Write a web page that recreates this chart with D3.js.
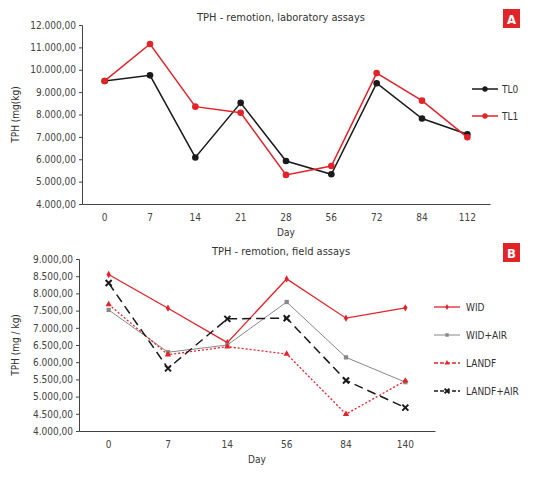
<!DOCTYPE html><html><head><meta charset="utf-8"><script src="https://cdn.jsdelivr.net/npm/d3@7"></script>
<style>body{margin:0;background:#fff}text{font-family:"Liberation Sans Narrow","DejaVu Sans Condensed",sans-serif;fill:#333}</style></head><body><svg id="c" width="537" height="480"></svg>
<script>
const daysA=["0","7","14","21","28","56","72","84","112"];
const tl0=[9500,9750,6080,8520,5920,5330,9400,7820,7120];
const tl1=[9500,11150,8350,8080,5300,5700,9850,8620,6980];
const ticksA=[4000,5000,6000,7000,8000,9000,10000,11000,12000];
const daysB=["0","7","14","56","84","140"];
const wid=[8550,7570,6570,8420,7280,7580];
const widAir=[7520,6290,6500,7750,6140,5420];
const landf=[7680,6220,6450,6240,4490,5460];
const landfAir=[8300,5820,7260,7280,5470,4680];
const ticksB=[4000,4500,5000,5500,6000,6500,7000,7500,8000,8500,9000];
const svg=d3.select("#c");
const fmt=v=>d3.format(",.2f")(v).replace(/,/g,"#").replace(".",",").replace(/#/g,".");
function panel(o){
 const x=d3.scaleBand().domain(o.days).range([o.x0,o.x1]);
 const y=d3.scaleLinear().domain([4000,o.ymax]).range([o.y1,o.y0]);
 const g=svg.append("g");
 const ya=g.append("g").attr("transform",`translate(${o.x0},0)`).call(d3.axisLeft(y).tickValues(o.ticks).tickFormat(fmt).tickSize(3));
 const xa=g.append("g").attr("transform",`translate(0,${o.y1})`).call(d3.axisBottom(x).tickSize(0).tickPadding(10));
 [ya,xa].forEach(a=>{a.selectAll("path,line").attr("stroke","#444");a.selectAll("text").attr("font-size",10).style("fill","#444")});
 g.append("text").attr("x",281).attr("y",o.y0-4).attr("text-anchor","middle").attr("font-size",11).text(o.title);
 g.append("text").attr("x",(o.x0+o.x1)/2).attr("y",o.y1+32).attr("text-anchor","middle").attr("font-size",10).text("Day");
 g.append("text").attr("transform",`translate(19,${(o.y0+o.y1)/2}) rotate(-90)`).attr("text-anchor","middle").attr("font-size",10).text(o.ylab);
 g.append("rect").attr("x",503).attr("y",o.y0-16).attr("width",17).attr("height",19).attr("fill","#e2232a");
 g.append("text").attr("x",511.5).attr("y",o.y0-1).attr("text-anchor","middle").attr("font-size",13).attr("font-weight","bold").style("fill","#fff").text(o.tag);
 o.series.forEach((s,i)=>{
  const line=d3.line().x((d,j)=>x(o.days[j])+x.bandwidth()/2).y(d=>y(d));
  g.append("path").datum(s.v).attr("d",line).attr("fill","none").attr("stroke",s.c).attr("stroke-width",s.w).attr("stroke-dasharray",s.dash||null);
  const px=(d,j)=>x(o.days[j])+x.bandwidth()/2;
  const ly=o.leg[1]+i*o.leg[2];
  g.append("line").attr("x1",o.leg[0]).attr("x2",o.leg[0]+26).attr("y1",ly).attr("y2",ly).attr("stroke",s.c).attr("stroke-width",s.w).attr("stroke-dasharray",s.dash?"4,2":null);
  g.append("text").attr("x",o.leg[0]+(o.tag=="A"?30:32)).attr("y",ly+4).attr("font-size",10).text(s.n);
  const mark=(sel,cx,cy,sz)=>{
   if(s.m=="circle")sel.append("circle").attr("cx",cx).attr("cy",cy).attr("r",sz).attr("fill",s.c);
   else if(s.m=="x"){const a=sz;sel.append("path").attr("d",`M${cx-a},${cy-a}L${cx+a},${cy+a}M${cx-a},${cy+a}L${cx+a},${cy-a}`).attr("stroke",s.c).attr("stroke-width",2);}
   else{const sym={diamond:d3.symbolDiamond,square:d3.symbolSquare,triangle:d3.symbolTriangle}[s.m];
    sel.append("path").attr("transform",`translate(${cx},${cy})`).attr("d",d3.symbol(sym,sz*sz*3.2)()).attr("fill",s.c);}
  };
  s.v.forEach((d,j)=>mark(g,px(d,j),y(d),s.sz));
  mark(g,o.leg[0]+13,ly,s.sz*0.8);
 });
}
panel({days:daysA,ticks:ticksA,ymax:12000,x0:82,x1:490,y0:25,y1:204,title:"TPH - remotion, laboratory assays",ylab:"TPH (mg(kg)",tag:"A",leg:[472,89,27],
 series:[{n:"TL0",v:tl0,c:"#1a1a1a",w:1.5,m:"circle",sz:3.3},{n:"TL1",v:tl1,c:"#e2232a",w:1.5,m:"circle",sz:3.3}]});
panel({days:daysB,ticks:ticksB,ymax:9000,x0:79,x1:435,y0:259,y1:431,title:"TPH - remotion, field assays",ylab:"TPH (mg / kg)",tag:"B",leg:[434,307,28],
 series:[{n:"WID",v:wid,c:"#e2232a",w:1.3,m:"diamond",sz:2.2},{n:"WID+AIR",v:widAir,c:"#888",w:1,m:"square",sz:2.4},
 {n:"LANDF",v:landf,c:"#e2232a",w:1.3,m:"triangle",sz:2.3,dash:"2,2"},{n:"LANDF+AIR",v:landfAir,c:"#1a1a1a",w:1.5,m:"x",sz:3,dash:"9,5"}]});
</script></body></html>
